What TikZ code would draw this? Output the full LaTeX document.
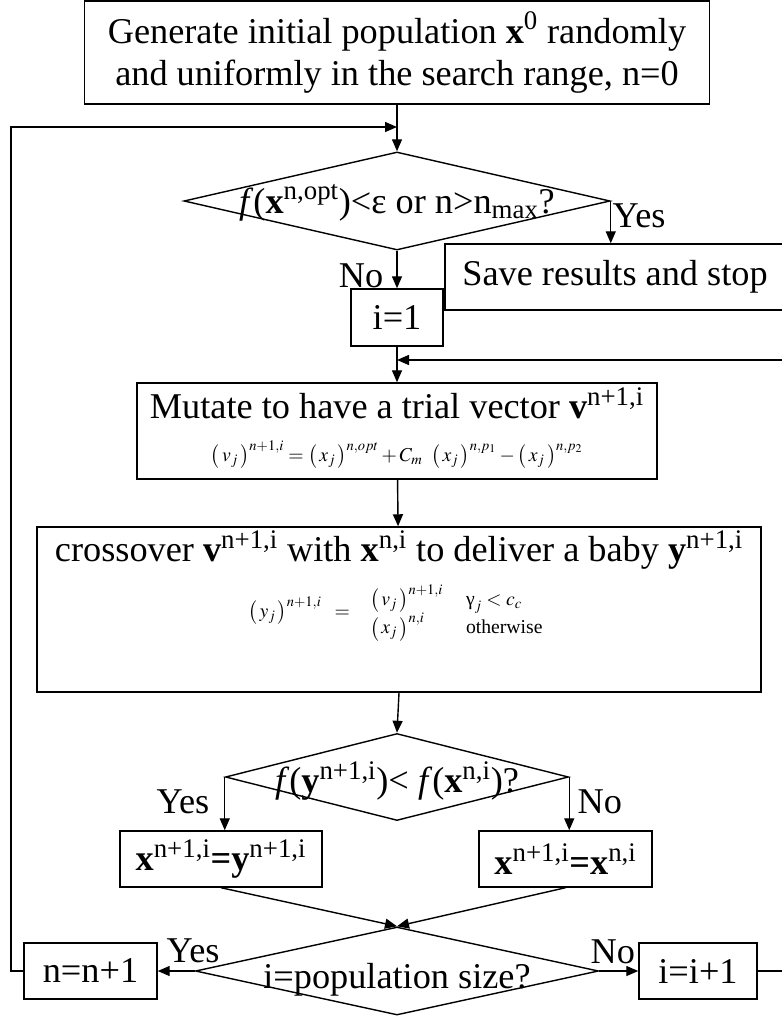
\documentclass[tikz,border=0pt]{standalone}
\usepackage{mathptmx}
\usepackage{fontspec}
\setmainfont{Liberation Serif}
\usetikzlibrary{arrows.meta,shapes.geometric}

\newcommand{\dtext}[2][0.35cm]{\smash{\makebox[0pt]{\raisebox{-#1}{#2}}}}
\newcommand{\btext}[2]{\raisebox{#1}[0pt][0pt]{\begin{tabular}[t]{@{}c@{}}#2\end{tabular}}}
\newcommand{\eqsize}{\fontsize{14}{16}\selectfont}

\begin{document}
\begin{tikzpicture}[
    x=0.025cm, y=-0.025cm,
    line width=1pt,
    font=\fontsize{25.8}{30}\selectfont,
    proc/.style={rectangle, draw, inner sep=0pt, align=center},
    test/.style={diamond, draw, inner sep=0pt},
    arr/.style={-{Triangle[length=0.3cm, width=0.25cm]}},
    branch/.style={inner sep=0pt}
]
\useasboundingbox (0,0) rectangle (781,1017);

% start and stop test
\node[proc, minimum width=15.625cm, minimum height=2.575cm] (start) at (397,52.5)
    {Generate initial population \textbf{x}\textsuperscript{0} randomly\\
     and uniformly in the search range, n=0};
\node[test, minimum width=10.65cm, minimum height=2.45cm] (stop?) at (397,201)
    {\dtext[0.3cm]{\textit{f}(\textbf{x}\textsuperscript{n,opt})<ε or n>n\textsubscript{max}?}};
\node[proc, minimum width=8.5cm, minimum height=1.65cm] (save) at (615,277)
    {Save results and stop};
\node[proc, minimum width=2.3cm, minimum height=1.425cm] (i1) at (397,317.5) {i=1};
\coordinate (jA) at (397,127);
\coordinate (jB) at (397,360);

% mutation and crossover
\node[proc, minimum width=13cm, minimum height=2.4cm] (mutate) at (397,431)
    {\btext{0.3cm}{Mutate to have a trial vector \textbf{v}\textsuperscript{n+1,i}\\[0pt]
     {\eqsize $\bigl(\,v_j\,\bigr)^{n+1,i} = \bigl(\,x_j\,\bigr)^{n,opt} + C_m\;\;
       \bigl(\,x_j\,\bigr)^{n,p_1} - \bigl(\,x_j\,\bigr)^{n,p_2}$}\hspace{2.6cm}}};
\node[proc, minimum width=18.1cm, minimum height=4.125cm] (cross) at (399,609.5)
    {\btext{1.19cm}{crossover \textbf{v}\textsuperscript{n+1,i} with \textbf{x}\textsuperscript{n,i}
     to deliver a baby \textbf{y}\textsuperscript{n+1,i}\\[7pt]
     {\eqsize $\bigl(\,y_j\,\bigr)^{n+1,i} \;\;=\;\;
       \begin{array}{ll}
         \bigl(\,v_j\,\bigr)^{n+1,i} & \;\;\mbox{γ}_j < c_c\\[1pt]
         \bigl(\,x_j\,\bigr)^{n,i} & \;\;\mbox{otherwise}
       \end{array}$}}};

% selection
\node[test, minimum width=8.575cm, minimum height=2.175cm] (better?) at (397,777)
    {\dtext[0.38cm]{\textit{f}(\textbf{y}\textsuperscript{n+1,i})< \textit{f}(\textbf{x}\textsuperscript{n,i})?}};
\node[proc, minimum width=5.05cm, minimum height=1.4cm] (keepy) at (221,859)
    {\textbf{x}\textsuperscript{n+1,i}\textbf{=y}\textsuperscript{n+1,i}};
\node[proc, minimum width=4.325cm, minimum height=1.4cm] (keepx) at (565.5,859)
    {\textbf{x}\textsuperscript{n+1,i}\textbf{=x}\textsuperscript{n,i}};

% loop over population
\node[test, minimum width=10.075cm, minimum height=2.2cm] (last?) at (397,971)
    {\dtext[0.43cm]{i=population size?}};
\node[proc, minimum width=3.325cm, minimum height=1.4cm] (nnext) at (90.5,971) {n=n+1};
\node[proc, minimum width=2.95cm, minimum height=1.4cm] (inext) at (698,971) {i=i+1};
\coordinate (loopL) at (11,127);
\coordinate (loopR) at (790,360);

% branch labels
\node[branch, anchor=base west] (y1) at (612,228) {Yes};
\node[branch, anchor=base east] (n1) at (384,287) {No};
\node[branch, anchor=base east] (y2) at (210,813) {Yes};
\node[branch, anchor=base west] (n2) at (577,813) {No};
\node[branch, anchor=base west] (y3) at (166,962) {Yes};
\node[branch, anchor=base west] (n3) at (590,963) {No};

% connectors
\draw[arr] (start) -- (stop?);
\draw[arr] (stop?.east) -- (stop?.east |- save.north);
\draw[arr] (stop?) -- (i1);
\draw[arr] (i1) -- (mutate);
\draw[arr] (mutate) -- (cross);
\draw[arr] (cross.south) -- (better?.north);
\draw[arr] (better?.west) -- (better?.west |- keepy.north);
\draw[arr] (better?.east) -- (better?.east |- keepx.north);
\draw[arr] (keepy.south) -- (last?.north);
\draw[arr] (keepx.south) -- (last?.north);
\draw[arr] (last?.west) -- (nnext.east);
\draw[arr] (last?.east) -- (inext.west);
\draw[arr] (nnext.west) -| (loopL) -- (jA);
\draw[arr] (inext.east) -| (loopR) -- (jB);
\end{tikzpicture}
\end{document}
